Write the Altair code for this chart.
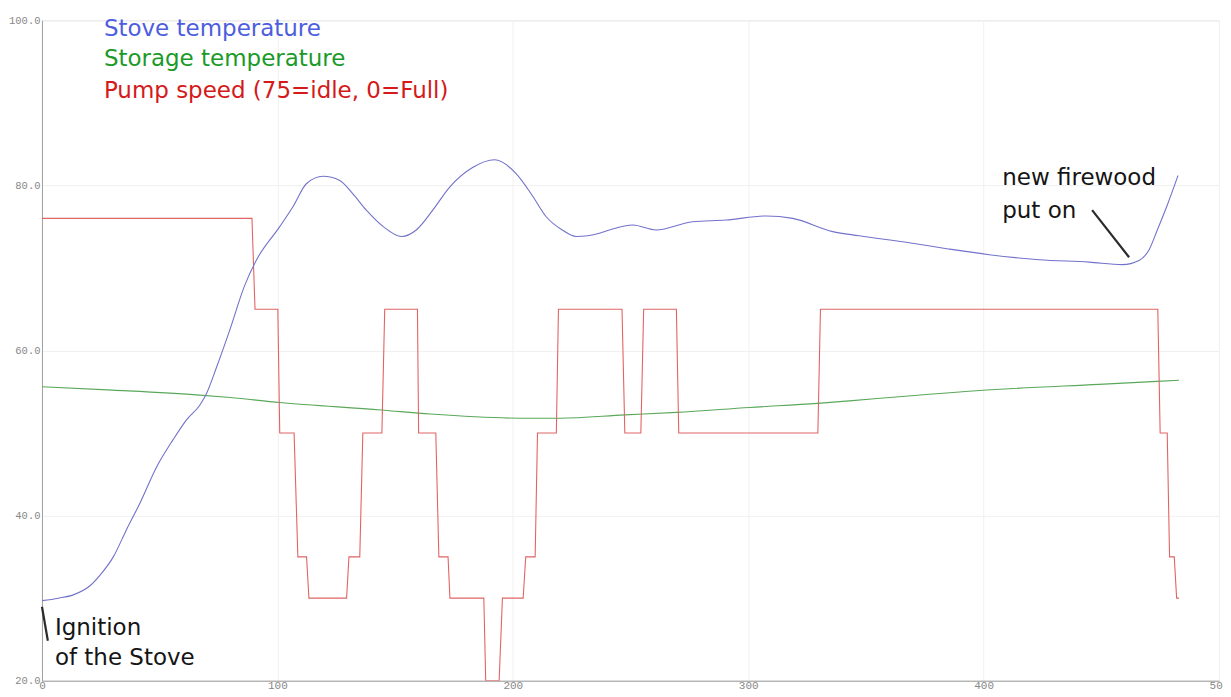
import altair as alt
import pandas as pd

# ---- data ----
stove_x = [0, 7, 13.3, 20.4, 25.3, 30.3, 35.9, 41.6, 48.7, 55.7, 61.4, 67.1, 69.9, 74.2, 79.8,
           86, 91.1, 101, 107, 112.3, 119.4, 126.5, 132, 137.8, 145, 152.7, 159, 166, 173.2, 183.1, 192.3, 201.5,
           208, 214.2, 221, 227, 236.8, 241.1, 251, 260.9, 276.4, 290.6, 307.6, 318.9, 335.9, 347.2,
           368.4, 385, 402.4, 423.6, 444.8, 459, 466, 470.3, 473.8, 478, 482.6]
stove_t = [29.7, 30.0, 30.4, 31.5, 33.0, 35.0, 38.3, 41.5, 45.9, 49.2, 51.6, 53.4, 54.8, 58.0, 62.5,
           67.8, 70.95, 75.0, 77.6, 80.2, 81.1, 80.6, 79.0, 77.0, 75.0, 73.8, 74.6, 77.0, 79.8, 82.2, 83.1, 81.4,
           78.9, 76.2, 74.6, 73.8, 74.2, 74.6, 75.2, 74.6, 75.6, 75.8, 76.3, 76.0, 74.4, 73.9,
           73.05, 72.3, 71.6, 71.0, 70.7, 70.4, 70.9, 72.2, 74.6, 77.6, 81.2]

storage_x = [0, 30, 67, 80, 101, 144, 165, 203, 220, 247.6, 269.6, 300.6, 329.5, 343, 364, 407, 449, 483]
storage_t = [55.6, 55.2, 54.6, 54.3, 53.7, 52.8, 52.3, 51.8, 51.8, 52.2, 52.5, 53.1, 53.6, 53.9, 54.4, 55.3, 55.9, 56.4]

pump_x = [0, 89.2, 90.5, 100.2, 101.0, 107.1, 108.7, 112.4, 113.4, 129.4, 130.4, 135, 136.3,
          144.4, 145.6, 159.5, 160, 167.3, 168.6, 172.5, 173.3, 187.7, 188.5, 194.2, 195.6,
          204.4, 205.5, 209.5, 210.5, 218.5, 219.4, 246.4, 247.6, 254.4, 255.6, 269.5, 270.5,
          329.6, 330.7, 474, 475, 478, 479, 481, 482, 483]
pump_v = [76, 76, 65, 65, 50, 50, 35, 35, 30, 30, 35, 35, 50,
          50, 65, 65, 50, 50, 35, 35, 30, 30, 20, 20, 30,
          30, 35, 35, 50, 50, 65, 65, 50, 50, 65, 65, 50,
          50, 65, 65, 50, 50, 35, 35, 30, 30]

legend_labels = ["Stove temperature", "Storage temperature", "Pump speed (75=idle, 0=Full)"]
legend_colors = ["#4d5de0", "#1a9a28", "#d41a1a"]
legend_x = [26.3, 26.3, 26.3]
legend_y = [99.0, 95.25, 91.4]

note_text = ["new firewood", "put on", "Ignition", "of the Stove"]
note_x = [407.9, 407.9, 5.5, 5.5]
note_y = [80.9, 76.9, 26.4, 22.7]

arrow_x = [446.1, 0.0]
arrow_y = [77.0, 28.96]
arrow_x2 = [461.8, 2.5]
arrow_y2 = [71.3, 24.84]

line_colors = ["#7272cc", "#5aa85a", "#e06464"]

# ---- tables ----
df_stove = pd.DataFrame({"x": stove_x, "v": stove_t, "i": range(len(stove_x))})
df_storage = pd.DataFrame({"x": storage_x, "v": storage_t, "i": range(len(storage_x))})
df_pump = pd.DataFrame({"x": pump_x, "v": pump_v, "i": range(len(pump_x))})
df_legend = pd.DataFrame({"t": legend_labels, "c": legend_colors, "x": legend_x, "y": legend_y})
df_note = pd.DataFrame({"t": note_text, "x": note_x, "y": note_y})
df_arrow = pd.DataFrame({"x": arrow_x, "y": arrow_y, "x2": arrow_x2, "y2": arrow_y2})

x_scale = alt.Scale(domain=[0, 500], nice=False, zero=False)
y_scale = alt.Scale(domain=[20, 100], nice=False, zero=False)

x_axis = alt.Axis(values=[0, 100, 200, 300, 400, 500], format="d", title=None,
                  labelFont="Liberation Mono", labelFontSize=11, labelColor="#888888",
                  domainColor="#a0a0a0", gridColor="#f0f0f0", ticks=False,
                  labelPadding=-1, labelFlush=False)
y_axis = alt.Axis(values=[20, 40, 60, 80, 100], format=".1f", title=None,
                  labelFont="Liberation Mono", labelFontSize=10.5, labelColor="#888888",
                  domainColor="#a0a0a0", gridColor="#f0f0f0", ticks=False,
                  labelPadding=2, labelFlush=False)

X = alt.X("x:Q", scale=x_scale, axis=x_axis)
Y = alt.Y("v:Q", scale=y_scale, axis=y_axis)


def series(df, color, interp):
    return alt.Chart(df).mark_line(color=color, strokeWidth=1.1, clip=True,
                                   interpolate=interp).encode(x=X, y=Y, order="i:Q")


stove = series(df_stove, line_colors[0], "monotone")
storage = series(df_storage, line_colors[1], "monotone")
pump = series(df_pump, line_colors[2], "linear")

legend = alt.Chart(df_legend).mark_text(
    align="left", baseline="middle", font="DejaVu Sans", fontSize=23
).encode(
    x=alt.X("x:Q", scale=x_scale), y=alt.Y("y:Q", scale=y_scale),
    text="t:N", color=alt.Color("c:N", scale=None)
)

notes = alt.Chart(df_note).mark_text(
    align="left", baseline="middle", font="DejaVu Sans", fontSize=23, color="#151515"
).encode(
    x=alt.X("x:Q", scale=x_scale), y=alt.Y("y:Q", scale=y_scale), text="t:N"
)

arrows = alt.Chart(df_arrow).mark_rule(color="#2a2a2a", strokeWidth=2.2).encode(
    x=alt.X("x:Q", scale=x_scale), y=alt.Y("y:Q", scale=y_scale),
    x2="x2:Q", y2="y2:Q"
)

chart = alt.layer(storage, pump, stove, arrows, notes, legend).properties(
    width=1178, height=661,
    autosize=alt.AutoSizeParams(type="none"),
    padding={"left": 34, "top": 12, "right": 4, "bottom": 10},
).configure_view(stroke=None).configure(background="white")

chart.save("out.html", embed_options={"renderer": "svg", "actions": False})
